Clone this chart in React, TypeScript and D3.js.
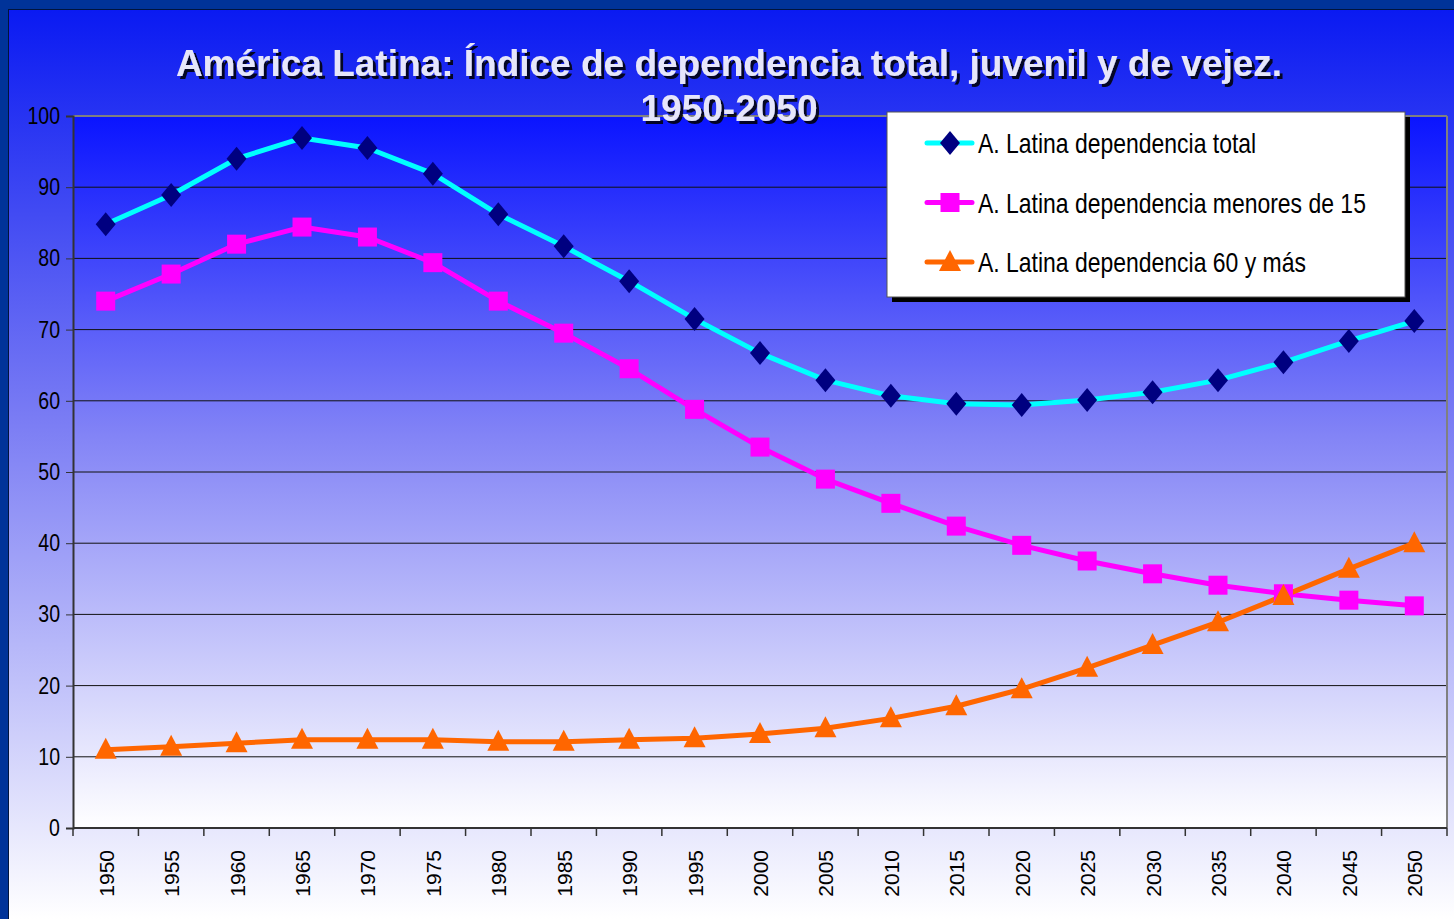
import React, { useEffect, useRef } from 'react';
import * as d3 from 'd3';

const years = ['1950', '1955', '1960', '1965', '1970', '1975', '1980', '1985', '1990', '1995', '2000',
  '2005', '2010', '2015', '2020', '2025', '2030', '2035', '2040', '2045', '2050'];

const total = [84.8, 88.9, 94.0, 96.9, 95.5, 91.9, 86.2, 81.7, 76.8, 71.5, 66.7,
  62.9, 60.7, 59.6, 59.4, 60.1, 61.2, 62.9, 65.4, 68.4, 71.2];
const menores15 = [74.0, 77.8, 82.0, 84.4, 83.0, 79.4, 74.0, 69.5, 64.5, 58.8, 53.5,
  49.0, 45.6, 42.4, 39.7, 37.5, 35.7, 34.1, 32.9, 32.0, 31.2];
const mayores60 = [11.0, 11.4, 11.9, 12.4, 12.4, 12.4, 12.1, 12.1, 12.4, 12.6, 13.2,
  14.0, 15.4, 17.1, 19.5, 22.5, 25.7, 28.9, 32.6, 36.4, 40.0];

const yTicks = [0, 10, 20, 30, 40, 50, 60, 70, 80, 90, 100];

const seriesNames = [
  'A. Latina dependencia total',
  'A. Latina dependencia menores de 15',
  'A. Latina dependencia 60 y más',
];

const titleLines = ['América Latina: Índice de dependencia total, juvenil y de vejez.', '1950-2050'];

function App() {
  const svgRef = useRef<SVGSVGElement>(null);
  const width = 1454;
  const height = 919;

  useEffect(() => {
    document.body.style.margin = '0';
    const svg = d3.select(svgRef.current);
    svg.selectAll('*').remove();

    const margin = { top: 116, right: 7, bottom: 91, left: 73 };
    const narrow = 0.85;

    const defs = svg.append('defs');
    const outerGrad = defs.append('linearGradient').attr('id', 'outerGrad')
      .attr('x1', 0).attr('y1', 0).attr('x2', 0).attr('y2', 1);
    outerGrad.append('stop').attr('offset', '0%').attr('stop-color', '#0a1af2');
    outerGrad.append('stop').attr('offset', '45%').attr('stop-color', '#7a7cf4');
    outerGrad.append('stop').attr('offset', '100%').attr('stop-color', '#ffffff');

    const plotGrad = defs.append('linearGradient').attr('id', 'plotGrad')
      .attr('x1', 0).attr('y1', 0).attr('x2', 0).attr('y2', 1);
    plotGrad.append('stop').attr('offset', '0%').attr('stop-color', '#0a14ff');
    plotGrad.append('stop').attr('offset', '45%').attr('stop-color', '#8384f6');
    plotGrad.append('stop').attr('offset', '100%').attr('stop-color', '#ffffff');

    const shadow = defs.append('filter').attr('id', 'tshadow')
      .attr('x', '-5%').attr('y', '-30%').attr('width', '110%').attr('height', '160%');
    shadow.append('feDropShadow').attr('dx', 3).attr('dy', 3).attr('stdDeviation', 0.6)
      .attr('flood-color', '#000').attr('flood-opacity', 0.85);

    // frame
    svg.append('rect').attr('width', width).attr('height', height).attr('fill', '#003399');
    svg.append('rect').attr('x', 8).attr('y', 9).attr('width', width - 8).attr('height', height - 9)
      .attr('fill', '#000').attr('opacity', 0.6);
    svg.append('rect').attr('x', 9).attr('y', 10).attr('width', width - 9).attr('height', height - 10)
      .attr('fill', 'url(#outerGrad)');

    const x = d3.scaleBand()
      .domain(years)
      .range([margin.left, width - margin.right]);

    const y = d3.scaleLinear()
      .domain([0, 100])
      .range([height - margin.bottom, margin.top]);

    const plotW = width - margin.right - margin.left;
    const plotH = y(0) - y(100);

    svg.append('rect')
      .attr('x', margin.left).attr('y', y(100))
      .attr('width', plotW).attr('height', plotH)
      .attr('fill', 'url(#plotGrad)');

    // gridlines
    svg.append('g')
      .selectAll('line')
      .data(yTicks.filter(d => d > 0 && d < 100))
      .enter()
      .append('line')
      .attr('x1', margin.left).attr('x2', width - margin.right)
      .attr('y1', d => y(d)).attr('y2', d => y(d))
      .attr('stroke', '#111').attr('stroke-width', 1);

    svg.append('line')
      .attr('x1', margin.left).attr('x2', width - margin.right)
      .attr('y1', y(100)).attr('y2', y(100))
      .attr('stroke', '#808080').attr('stroke-width', 2);
    svg.append('line')
      .attr('x1', width - margin.right).attr('x2', width - margin.right)
      .attr('y1', y(100)).attr('y2', y(0))
      .attr('stroke', '#808080').attr('stroke-width', 2);

    // y axis
    const yAxis = svg.append('g')
      .attr('transform', `translate(${margin.left},0)`)
      .call(d3.axisLeft(y).tickValues(yTicks).tickSize(7).tickFormat(() => ''));
    yAxis.select('.domain').attr('stroke', '#333').attr('stroke-width', 2);
    yAxis.selectAll('.tick line').attr('stroke', '#333');
    svg.append('g')
      .selectAll('text')
      .data(yTicks)
      .enter()
      .append('text')
      .attr('transform', d => `translate(60,${y(d) + 8}) scale(${narrow},1)`)
      .attr('text-anchor', 'end')
      .attr('fill', '#000')
      .style('font-family', '"Liberation Sans", Arial, sans-serif')
      .style('font-size', '23px')
      .text(d => d);

    // x axis
    const xAxis = svg.append('g').attr('transform', `translate(0,${y(0)})`);
    xAxis.append('line')
      .attr('x1', margin.left).attr('x2', width - margin.right)
      .attr('y1', 0).attr('y2', 0)
      .attr('stroke', '#333').attr('stroke-width', 2);
    const bounds = years.map(d => x(d) as number).concat([width - margin.right]);
    xAxis.selectAll('.xt')
      .data(bounds)
      .enter()
      .append('line')
      .attr('x1', d => d).attr('x2', d => d)
      .attr('y1', 0).attr('y2', 8)
      .attr('stroke', '#333').attr('stroke-width', 1.5);
    xAxis.selectAll('.xl')
      .data(years)
      .enter()
      .append('text')
      .attr('transform', d => `translate(${(x(d) as number) + x.bandwidth() / 2 + 8},22)rotate(-90)`)
      .attr('text-anchor', 'end')
      .attr('fill', '#000')
      .style('font-family', '"Liberation Sans", Arial, sans-serif')
      .style('font-size', '21px')
      .text(d => d);

    const cx = (i: number) => (x(years[i]) as number) + x.bandwidth() / 2;

    const seriesList = [
      { name: seriesNames[0], values: total, line: '#00ffff', marker: '#000080', shape: 'diamond' },
      { name: seriesNames[1], values: menores15, line: '#ff00ff', marker: '#ff00ff', shape: 'square' },
      { name: seriesNames[2], values: mayores60, line: '#ff6600', marker: '#ff6600', shape: 'triangle' },
    ];

    const markerPath = (shape: string) => {
      if (shape === 'diamond') return 'M0,-12L10,0L0,12L-10,0Z';
      if (shape === 'square') return 'M-9.5,-9.5L9.5,-9.5L9.5,9.5L-9.5,9.5Z';
      return 'M0,-12L11,9L-11,9Z';
    };

    const line = d3.line<number>()
      .x((d, i) => cx(i))
      .y(d => y(d));

    seriesList.forEach(s => {
      svg.append('path')
        .datum(s.values)
        .attr('d', line)
        .attr('fill', 'none')
        .attr('stroke', s.line)
        .attr('stroke-width', 5)
        .attr('stroke-linejoin', 'round');
    });

    seriesList.forEach(s => {
      svg.append('g')
        .selectAll('path')
        .data(s.values)
        .enter()
        .append('path')
        .attr('d', markerPath(s.shape))
        .attr('transform', (d, i) => `translate(${cx(i)},${y(d)})`)
        .attr('fill', s.marker);
    });

    // title
    const title = svg.append('g')
      .style('font-family', '"Liberation Sans", Arial, sans-serif')
      .style('font-weight', 'bold')
      .style('font-size', '37px')
      .attr('text-anchor', 'middle')
      .attr('filter', 'url(#tshadow)');
    titleLines.forEach((t, i) => {
      title.append('text').attr('x', 729).attr('y', 76 + i * 45).attr('fill', '#e6e6fa').text(t);
    });

    // legend
    const lg = svg.append('g');
    lg.append('rect').attr('x', 892).attr('y', 117).attr('width', 518).attr('height', 185).attr('fill', '#000');
    lg.append('rect').attr('x', 887).attr('y', 112).attr('width', 518).attr('height', 185)
      .attr('fill', '#fff').attr('stroke', '#555').attr('stroke-width', 1);
    seriesList.forEach((s, i) => {
      const ly = 143 + i * 59.5;
      lg.append('line').attr('x1', 927).attr('x2', 972).attr('y1', ly).attr('y2', ly)
        .attr('stroke', s.line).attr('stroke-width', 5).attr('stroke-linecap', 'round');
      lg.append('path').attr('d', markerPath(s.shape))
        .attr('transform', `translate(950,${ly})`).attr('fill', s.marker);
      lg.append('text')
        .attr('transform', `translate(978,${ly + 10}) scale(0.82,1)`)
        .attr('fill', '#000')
        .style('font-family', '"Liberation Sans", Arial, sans-serif')
        .style('font-size', '28px')
        .text(s.name);
    });
  }, []);

  return <svg ref={svgRef} width={width} height={height} style={{ display: 'block' }}></svg>;
}

export default App;
